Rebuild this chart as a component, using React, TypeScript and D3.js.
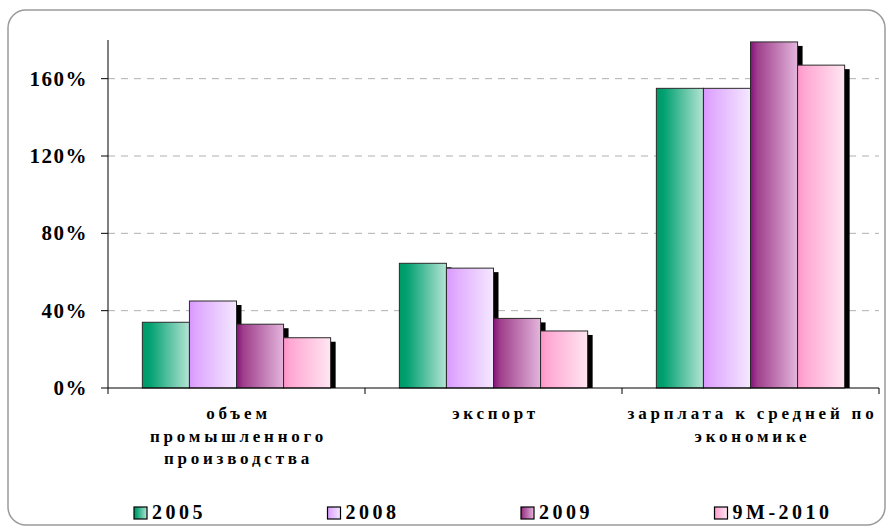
import React from 'react'
import * as d3 from 'd3'

const categories = ['объем промышленного производства', 'экспорт', 'зарплата к средней по экономике']
const categoryLines = [['объем', 'промышленного', 'производства'], ['экспорт'], ['зарплата к средней по', 'экономике']]
const seriesNames = ['2005', '2008', '2009', '9M-2010']
const v2005 = [34, 64.5, 155]
const v2008 = [45, 62, 155]
const v2009 = [33, 36, 179]
const v9m2010 = [26, 29.5, 167]
const yTicks = [0, 40, 80, 120, 160]

const seriesValues = [v2005, v2008, v2009, v9m2010]
const gradients = [
  ['#009966', '#00a070', '#b5e4d4'],
  ['#d896ff', '#dfa8ff', '#f4e8ff'],
  ['#85107a', '#a0408c', '#e3b5dc'],
  ['#ff94c8', '#ffa8d3', '#ffe6f1']
]

const W = 888
const H = 529
const margin = { left: 108, right: 9, top: 40, bottom: 141 }

const serifFont = 'Liberation Serif, DejaVu Serif'

const Chart = () => {
  const x0 = d3.scaleBand<string>().domain(categories).range([margin.left, W - margin.right]).padding(0)
  const x1 = d3
    .scaleBand<string>()
    .domain(seriesNames)
    .range([0, x0.bandwidth()])
    .paddingInner(0)
    .paddingOuter(0.73)
  const y = d3.scaleLinear().domain([0, 180]).range([H - margin.bottom, margin.top])
  const y0 = y(0)
  const sx = 5
  const sy = 4

  return (
    <svg width={W} height={H} style={{ position: 'absolute', left: 0, top: 0, background: '#fff' }}>
      <defs>
        {gradients.map((g, i) => (
          <linearGradient key={i} id={`grad${i}`} x1='0' x2='1' y1='0' y2='0'>
            <stop offset='0' stopColor={g[0]} />
            <stop offset='0.15' stopColor={g[1]} />
            <stop offset='1' stopColor={g[2]} />
          </linearGradient>
        ))}
      </defs>
      <rect x={8} y={10} width={877} height={515} rx={18} fill='#fff' stroke='#9a9a9a' strokeWidth={1.5} />

      {/* grid */}
      {yTicks
        .filter(t => t > 0)
        .map(t => (
          <line
            key={t}
            x1={margin.left}
            x2={W - margin.right}
            y1={y(t)}
            y2={y(t)}
            stroke='#b0b0b0'
            strokeDasharray='7,6'
          />
        ))}

      {/* shadows */}
      {categories.map((c, ci) =>
        seriesNames.map((s, si) => {
          const bx = x0(c)! + x1(s)!
          const by = y(seriesValues[si][ci])
          return (
            <rect
              key={`sh-${c}-${s}`}
              x={bx + sx}
              y={by + sy}
              width={x1.bandwidth()}
              height={Math.max(0, y0 - by - sy)}
              fill='#000'
            />
          )
        })
      )}

      {/* bars */}
      {categories.map((c, ci) =>
        seriesNames.map((s, si) => {
          const bx = x0(c)! + x1(s)!
          const by = y(seriesValues[si][ci])
          return (
            <rect
              key={`b-${c}-${s}`}
              x={bx}
              y={by}
              width={x1.bandwidth()}
              height={y0 - by}
              fill={`url(#grad${si})`}
              stroke='#2a2a2a'
              strokeWidth={1}
            />
          )
        })
      )}

      {/* axes */}
      <g fontFamily={serifFont} fontWeight='bold' fill='#000'>
        <line x1={margin.left} x2={margin.left} y1={margin.top} y2={y0} stroke='#000' />
        <line x1={margin.left} x2={W - margin.right} y1={y0} y2={y0} stroke='#000' />
        {yTicks.map(t => (
          <g key={t}>
            <line x1={margin.left - 7} x2={margin.left} y1={y(t)} y2={y(t)} stroke='#000' />
            <text x={88} y={y(t) + 7} textAnchor='end' fontSize={21} letterSpacing={1.5}>
              {t}%
            </text>
          </g>
        ))}
        {[...categories.map(c => x0(c)!), W - margin.right].map((xv, i) => (
          <line key={i} x1={xv} x2={xv} y1={y0} y2={y0 + 6} stroke='#000' />
        ))}
        {categories.map((c, ci) =>
          categoryLines[ci].map((ln, li) => (
            <text
              key={`${c}-${li}`}
              x={x0(c)! + x0.bandwidth() / 2 + 2}
              y={419 + li * 22.5}
              textAnchor='middle'
              fontSize={17}
              letterSpacing={3.8}
            >
              {ln}
            </text>
          ))
        )}

        {/* legend */}
        {seriesNames.map((s, si) => {
          const lx = 134 + si * 193.5
          return (
            <g key={s}>
              <rect x={lx} y={507} width={13} height={12} fill={`url(#grad${si})`} stroke='#000' strokeWidth={1.2} />
              <text x={lx + 18} y={519} fontSize={20} letterSpacing={3.5}>
                {s}
              </text>
            </g>
          )
        })}
      </g>
    </svg>
  )
}

const App = () => {
  return <Chart />
}

export default App
